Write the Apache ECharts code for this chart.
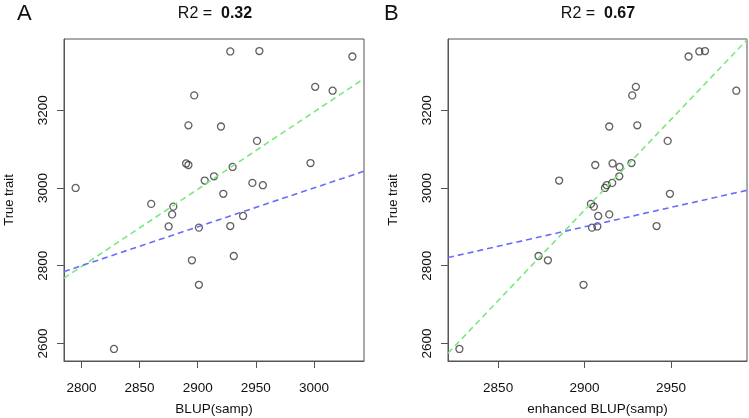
<!DOCTYPE html>
<html>
<head>
<meta charset="utf-8">
<script src="https://cdn.jsdelivr.net/npm/echarts@6/dist/echarts.min.js"></script>
<style>
html,body{margin:0;padding:0;background:#fff;}
#c{width:749px;height:418px;}
</style>
</head>
<body>
<div id="c"></div>
<script>
// True trait (y) shared by both panels
const trueTrait = [3238,3161,3158,3063,3059,3019,3030,3000,2959,2952,3351,3352,3338,3260,3250,3121,3054,3064,3013,3007,2985,2932,2901,2898,2814,2751,2586,2928,2902,2825];
// Panel A x: BLUP(samp)
const blupA = [2897,2892,2920,2890,2892,2906,2914,2795,2860,2879,2928,2953,3033,3001,3016,2951,2930,2997,2947,2956,2922,2878,2875,2901,2895,2901,2828,2939,2928,2931];
// Panel B x: enhanced BLUP(samp)
const blupB = [2927.6,2930.5,2914.3,2916.2,2906.2,2885.3,2920.1,2911.8,2903.7,2905.4,2966.4,2969.7,2960.2,2929.7,2987.8,2948.1,2920.3,2927.2,2916,2912.8,2949.4,2914.3,2907.4,2904.3,2878.8,2899.4,2827.6,2907.9,2941.7,2873.4];

// Reference lines (endpoints in data units)
const greenA = [[2785, 2768], [3043, 3281]];
const blueA  = [[2785, 2785], [3043, 3043]];
const greenB = [[2821, 2575], [2994, 3381]];
const blueB  = [[2821, 2821], [2994, 2994]];

// Axis ticks
const xTicksA = [2800, 2850, 2900, 2950, 3000];
const xTicksB = [2850, 2900, 2950];
const yTicks = [2600, 2800, 3000, 3200];

const r2A = '0.32', r2B = '0.67';
const panelLetters = ['A', 'B'];
const xNames = ['BLUP(samp)', 'enhanced BLUP(samp)'];
const yName = 'True trait';

const FONT = '"Liberation Sans", Arial, sans-serif';
const AX = '#555';
const fmt = v => String(Math.round(v));

function xAxis(gi, min, max, ticks, name) {
  return {
    type: 'value', gridIndex: gi, min: min, max: max,
    name: name, nameLocation: 'middle', nameGap: 41, nameMoveOverlap: false,
    nameTextStyle: {fontFamily: FONT, fontSize: 13.5, color: '#111'},
    splitLine: {show: false},
    axisLine: {show: true, onZero: false, lineStyle: {color: AX, width: 1}},
    axisTick: {show: true, length: 7, inside: false, customValues: ticks, lineStyle: {color: AX}},
    axisLabel: {show: true, margin: 20, customValues: ticks, formatter: fmt, fontFamily: FONT, fontSize: 13.5, color: '#111'}
  };
}
function yAxis(gi) {
  return {
    type: 'value', gridIndex: gi, min: 2555, max: 3383,
    name: yName, nameLocation: 'middle', nameGap: 48, nameMoveOverlap: false,
    nameTextStyle: {fontFamily: FONT, fontSize: 13, color: '#111'},
    splitLine: {show: false},
    axisLine: {show: true, onZero: false, lineStyle: {color: AX, width: 1}},
    axisTick: {show: true, length: 7, inside: false, customValues: yTicks, lineStyle: {color: AX}},
    axisLabel: {show: true, rotate: 90, margin: 14, customValues: yTicks, formatter: fmt, fontFamily: FONT, fontSize: 13.5, color: '#111'}
  };
}
function pts(xs) { return xs.map((x, i) => [x, trueTrait[i]]); }
function scatter(gi, xs) {
  return {
    type: 'scatter', xAxisIndex: gi, yAxisIndex: gi, data: pts(xs),
    symbol: 'circle', symbolSize: 7, silent: true,
    itemStyle: {color: 'rgba(0,0,0,0)', borderColor: '#3a3a3a', borderWidth: 1.3}, z: 3
  };
}
function dline(gi, d, color) {
  return {
    type: 'line', xAxisIndex: gi, yAxisIndex: gi, data: d, showSymbol: false, silent: true,
    clip: true, animation: false,
    lineStyle: {color: color, width: 1.6, type: [6, 4]}, z: 4
  };
}

const chart = echarts.init(document.getElementById('c'), null, {renderer: 'canvas'});
chart.setOption({
  animation: false,
  backgroundColor: '#fff',
  grid: [
    {left: 64, top: 39, width: 300, height: 322, show: true, borderColor: AX, borderWidth: 1, backgroundColor: 'transparent', containLabel: false, outerBoundsMode: 'none'},
    {left: 448, top: 39, width: 299, height: 322, show: true, borderColor: AX, borderWidth: 1, backgroundColor: 'transparent', containLabel: false, outerBoundsMode: 'none'}
  ],
  xAxis: [xAxis(0, 2785, 3043, xTicksA, xNames[0]), xAxis(1, 2821, 2994, xTicksB, xNames[1])],
  yAxis: [yAxis(0), yAxis(1)],
  series: [
    scatter(0, blupA), dline(0, greenA, '#7be87b'), dline(0, blueA, '#6b6bfa'),
    scatter(1, blupB), dline(1, greenB, '#7be87b'), dline(1, blueB, '#6b6bfa')
  ],
  graphic: [
    {type: 'text', left: 17, top: 3, style: {text: panelLetters[0], font: '22px ' + FONT, fill: '#111'}},
    {type: 'text', left: 384, top: 3, style: {text: panelLetters[1], font: '22px ' + FONT, fill: '#111'}},
    {type: 'text', x: 215, y: 14, style: {
      text: '{n|R2 =  }{b|' + r2A + '}', align: 'center', verticalAlign: 'middle',
      rich: {n: {fontFamily: FONT, fontSize: 16, fill: '#111'}, b: {fontFamily: FONT, fontSize: 16, fontWeight: 'bold', fill: '#111'}}
    }},
    {type: 'text', x: 598, y: 14, style: {
      text: '{n|R2 =  }{b|' + r2B + '}', align: 'center', verticalAlign: 'middle',
      rich: {n: {fontFamily: FONT, fontSize: 16, fill: '#111'}, b: {fontFamily: FONT, fontSize: 16, fontWeight: 'bold', fill: '#111'}}
    }}
  ]
});
</script>
</body>
</html>
